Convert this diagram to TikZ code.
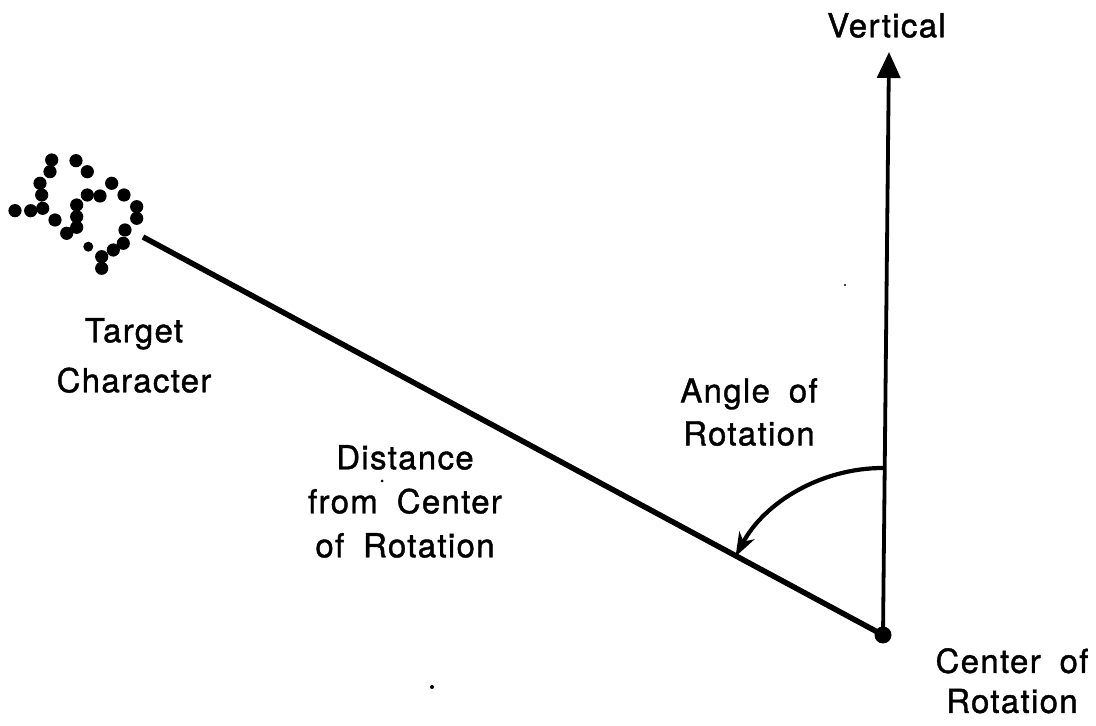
\documentclass[tikz,border=0pt]{standalone}
\usepackage{fontspec}
\setmainfont{TeX Gyre Heros}[LetterSpace=4,WordSpace=1.8,FakeBold=1.2]
\usetikzlibrary{arrows.meta}
\begin{document}
\begin{tikzpicture}[x=1pt,y=1pt,
  lbl/.style={inner sep=0pt,anchor=north,align=center,font=\fontsize{33}{44}\selectfont},
]
\useasboundingbox (0,0) rectangle (1096,726);
% key points (y measured upward)
\coordinate (C) at (883,91);
\coordinate (V) at (889,674);
\coordinate (T) at (143,489);
\coordinate (A) at (883,258);
% target character (dots)
\foreach \x/\y in {51.7/160,50/171.7,76/160.7,87.3/171.7,111.7/183.3,40/183.3,41.7/195,
  87.3/195,100/196,124/195,15/210.7,30.7/210.7,42.7/208.3,76.7/205,76.7/216.7,76.7/227.3,
  55/220,66.7/233.3,136.7/206.7,136.7/218.3,125/230,123.3/243.3,113.3/250,
  101.7/256.7,101.7/268.3}
  \fill (\x,726-\y) circle (6.6);
\fill (88.3,726-246.7) circle (5);
% lines
\draw[line width=5.5pt] (T) -- (C);
\draw[line width=3.8pt,-{Triangle[length=26pt,width=23pt]}] (C) -- (V);
\fill (C) circle (8.5);
\draw[line width=4.2pt,-{Stealth[length=24pt,width=17pt,inset=7pt]}] (A) arc[start angle=90,end angle=152,radius=167];
% specks
\fill (382,726-481) circle (1.5);
\fill (432,726-687) circle (2);
\fill (845,726-285) circle (1.2);
% labels
\node[lbl] (vert) at (886.5,726-13) {Vertical};
\node[lbl,font=\fontsize{33}{50}\selectfont] (targ) at (134,726-318) {Target\\Character};
\node[lbl] (dist) at (405,726-445) {Distance\\from Center\\of Rotation};
\node[lbl,font=\fontsize{33}{43}\selectfont] (ang) at (749,726-378) {Angle of\\Rotation};
\node[lbl,font=\fontsize{33}{40}\selectfont] (cen) at (1012,726-648) {Center of\\Rotation};
\end{tikzpicture}
\end{document}
